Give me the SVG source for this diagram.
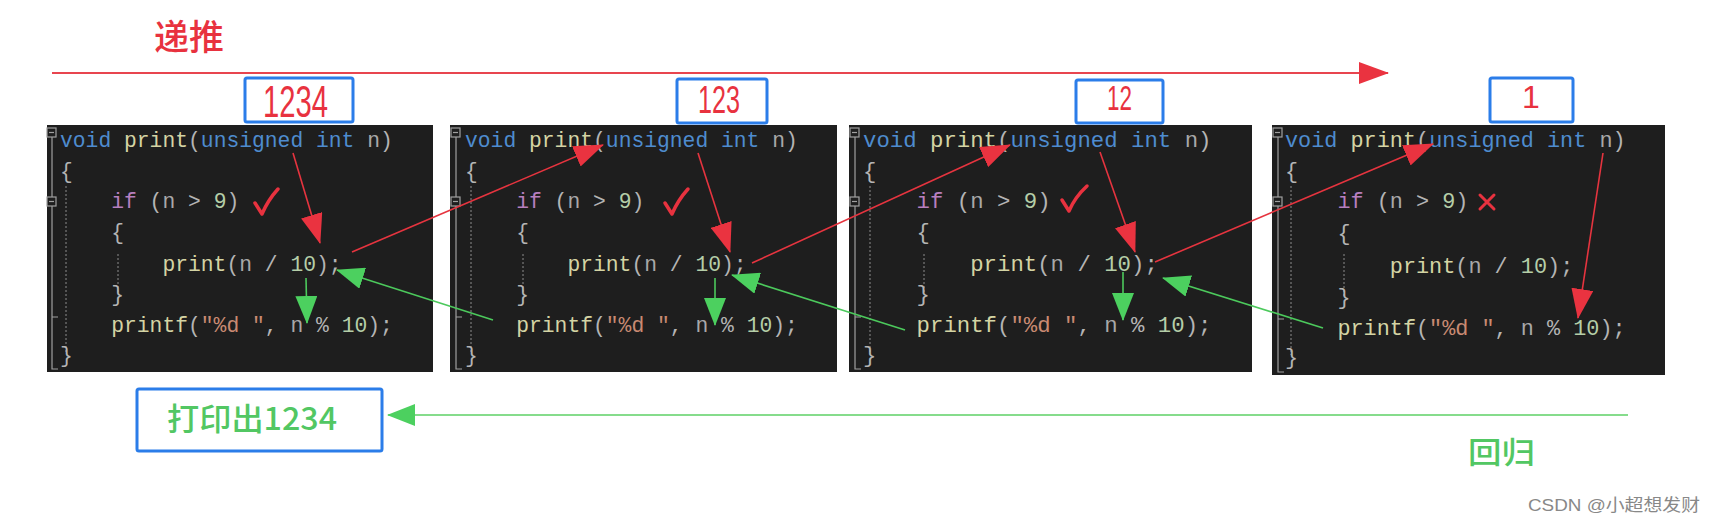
<svg xmlns="http://www.w3.org/2000/svg" width="1715" height="524" viewBox="0 0 1715 524">
<style>
.panel{fill:#1e1e1e}
.code{font-family:"Liberation Mono","DejaVu Sans Mono",monospace;fill:#b4b4b4}
.kw{fill:#4e8ccf}.fn{fill:#d4d4a4}.pn{fill:#b4b4b4}.var{fill:#a8a8a8}.ctl{fill:#b77fbf}.num{fill:#b5cea8}.str{fill:#c98a72}
.gut{stroke:#a0a0a0;stroke-width:1.2;fill:none}
.guide{stroke:#7a7a7a;stroke-width:1.2;stroke-dasharray:2 2;fill:none}
.fold{fill:#1e1e1e;stroke:#a0a0a0;stroke-width:1.2}
.box{fill:#ffffff;stroke:#2b7de9;stroke-width:3}
.hand{font-family:"Noto Sans CJK SC","Liberation Sans",sans-serif}
.red{fill:#e8323f}.green{fill:#52c763}
.digits{font-family:"Liberation Sans","DejaVu Sans",sans-serif;fill:#e8323f}
.rl{stroke:#e6343f;stroke-width:1.6;fill:none}
.gl{stroke:#4cc95c;stroke-width:1.6;fill:none}
.mark{stroke:#e8323f;stroke-width:3.5;fill:none;stroke-linecap:round;stroke-linejoin:round}
</style>
<defs>
<marker id="ahR" markerUnits="userSpaceOnUse" markerWidth="30" markerHeight="22" refX="29" refY="11" orient="auto"><path d="M0,0 L30,11 L0,22 z" fill="#ea3340"/></marker>
<marker id="ahG" markerUnits="userSpaceOnUse" markerWidth="28" markerHeight="22" refX="27" refY="11" orient="auto"><path d="M0,0 L28,11 L0,22 z" fill="#4cd05f"/></marker>
</defs>
<rect width="1715" height="524" fill="#ffffff"/>

<g id="label-recursion">
<text class="hand red" x="154" y="50" font-size="35" font-weight="500">递推</text>
</g>

<!-- Panel 1 -->
<g id="panel1">
<rect class="panel" x="47" y="125" width="386" height="247"/>
<path class="gut" d="M52,137 V369 H58 M52,206 V317 H58"/>
<rect class="fold" x="47" y="128" width="9" height="9"/><path class="gut" d="M49,132.5 H54"/>
<rect class="fold" x="47" y="197" width="9" height="9"/><path class="gut" d="M49,201.5 H54"/>
<path class="guide" d="M66,186 V352 M118,254 V294"/>
<g class="code" font-size="21.33" xml:space="preserve">
<text x="60" y="147"><tspan class="kw">void</tspan> <tspan class="fn">print</tspan><tspan class="pn">(</tspan><tspan class="kw">unsigned int</tspan> <tspan class="var">n</tspan><tspan class="pn">)</tspan></text>
<text x="60" y="178">{</text>
<text x="111.2" y="208"><tspan class="ctl">if</tspan> (<tspan class="var">n</tspan> &gt; <tspan class="num">9</tspan>)</text>
<text x="111.2" y="239">{</text>
<text x="162.4" y="271"><tspan class="fn">print</tspan>(<tspan class="var">n</tspan> / <tspan class="num">10</tspan>);</text>
<text x="111.2" y="301">}</text>
<text x="111.2" y="332"><tspan class="fn">printf</tspan>(<tspan class="str">"%d "</tspan>, <tspan class="var">n</tspan> % <tspan class="num">10</tspan>);</text>
<text x="60" y="362">}</text>
</g>
<path class="mark" d="M255,203 L262,214 Q268,200 278,189"/>
</g>

<!-- Panel 2 -->
<g id="panel2">
<rect class="panel" x="450" y="125" width="387" height="247"/>
<path class="gut" d="M456,137 V369 H462 M456,206 V317 H462"/>
<rect class="fold" x="451" y="128" width="9" height="9"/><path class="gut" d="M453,132.5 H458"/>
<rect class="fold" x="451" y="197" width="9" height="9"/><path class="gut" d="M453,201.5 H458"/>
<path class="guide" d="M471,186 V352 M523,254 V294"/>
<g class="code" font-size="21.33" xml:space="preserve">
<text x="465" y="147"><tspan class="kw">void</tspan> <tspan class="fn">print</tspan><tspan class="pn">(</tspan><tspan class="kw">unsigned int</tspan> <tspan class="var">n</tspan><tspan class="pn">)</tspan></text>
<text x="465" y="178">{</text>
<text x="516.2" y="208"><tspan class="ctl">if</tspan> (<tspan class="var">n</tspan> &gt; <tspan class="num">9</tspan>)</text>
<text x="516.2" y="239">{</text>
<text x="567.4" y="271"><tspan class="fn">print</tspan>(<tspan class="var">n</tspan> / <tspan class="num">10</tspan>);</text>
<text x="516.2" y="301">}</text>
<text x="516.2" y="332"><tspan class="fn">printf</tspan>(<tspan class="str">"%d "</tspan>, <tspan class="var">n</tspan> % <tspan class="num">10</tspan>);</text>
<text x="465" y="362">}</text>
</g>
<path class="mark" d="M665,203 L672,214 Q678,200 688,189"/>
</g>

<!-- Panel 3 -->
<g id="panel3">
<rect class="panel" x="849" y="125" width="403" height="247"/>
<path class="gut" d="M855,137 V369 H861 M855,206 V317 H861"/>
<rect class="fold" x="850" y="128" width="9" height="9"/><path class="gut" d="M852,132.5 H857"/>
<rect class="fold" x="850" y="197" width="9" height="9"/><path class="gut" d="M852,201.5 H857"/>
<path class="guide" d="M870,186 V352 M924,254 V294"/>
<g class="code" font-size="22.33" xml:space="preserve">
<text x="863" y="147"><tspan class="kw">void</tspan> <tspan class="fn">print</tspan><tspan class="pn">(</tspan><tspan class="kw">unsigned int</tspan> <tspan class="var">n</tspan><tspan class="pn">)</tspan></text>
<text x="863" y="178">{</text>
<text x="916.6" y="208"><tspan class="ctl">if</tspan> (<tspan class="var">n</tspan> &gt; <tspan class="num">9</tspan>)</text>
<text x="916.6" y="239">{</text>
<text x="970.2" y="271"><tspan class="fn">print</tspan>(<tspan class="var">n</tspan> / <tspan class="num">10</tspan>);</text>
<text x="916.6" y="301">}</text>
<text x="916.6" y="332"><tspan class="fn">printf</tspan>(<tspan class="str">"%d "</tspan>, <tspan class="var">n</tspan> % <tspan class="num">10</tspan>);</text>
<text x="863" y="362">}</text>
</g>
<path class="mark" d="M1062,200 L1069,211 Q1075,197 1087,186"/>
</g>

<!-- Panel 4 -->
<g id="panel4">
<rect class="panel" x="1272" y="125" width="393" height="250"/>
<path class="gut" d="M1278,137 V372 H1284 M1278,206 V319 H1284"/>
<rect class="fold" x="1273" y="128" width="9" height="9"/><path class="gut" d="M1275,132.5 H1280"/>
<rect class="fold" x="1273" y="197" width="9" height="9"/><path class="gut" d="M1275,201.5 H1280"/>
<path class="guide" d="M1291,186 V355 M1344,254 V296"/>
<g class="code" font-size="21.83" xml:space="preserve">
<text x="1285" y="147"><tspan class="kw">void</tspan> <tspan class="fn">print</tspan><tspan class="pn">(</tspan><tspan class="kw">unsigned int</tspan> <tspan class="var">n</tspan><tspan class="pn">)</tspan></text>
<text x="1285" y="178">{</text>
<text x="1337.4" y="208"><tspan class="ctl">if</tspan> (<tspan class="var">n</tspan> &gt; <tspan class="num">9</tspan>)</text>
<text x="1337.4" y="240">{</text>
<text x="1389.8" y="273"><tspan class="fn">print</tspan>(<tspan class="var">n</tspan> / <tspan class="num">10</tspan>);</text>
<text x="1337.4" y="304">}</text>
<text x="1337.4" y="335"><tspan class="fn">printf</tspan>(<tspan class="str">"%d "</tspan>, <tspan class="var">n</tspan> % <tspan class="num">10</tspan>);</text>
<text x="1285" y="364">}</text>
</g>
<path d="M1480,195 L1494,209 M1494,195 L1480,209" stroke="#e8323f" stroke-width="3" stroke-linecap="round"/>
</g>

<!-- value boxes -->
<g id="box1234">
<rect class="box" x="245" y="78" width="108" height="44" rx="2"/>
<text class="digits" x="263" y="117" font-size="44" textLength="65" lengthAdjust="spacingAndGlyphs">1234</text>
</g>
<g id="box123">
<rect class="box" x="677" y="79" width="90" height="44" rx="2"/>
<text class="digits" x="698" y="113" font-size="39" textLength="42" lengthAdjust="spacingAndGlyphs">123</text>
</g>
<g id="box12">
<rect class="box" x="1076" y="80" width="87" height="43" rx="2"/>
<text class="digits" x="1107" y="110" font-size="35" textLength="25" lengthAdjust="spacingAndGlyphs">12</text>
</g>
<g id="box1">
<rect class="box" x="1490" y="78" width="83" height="44" rx="2"/>
<text class="digits" x="1531" y="108" font-size="32" text-anchor="middle">1</text>
</g>
<g id="box-output">
<rect class="box" x="137" y="389" width="245" height="62" rx="2"/>
<text class="hand green" x="167" y="430" font-size="31" font-weight="500" textLength="170" lengthAdjust="spacingAndGlyphs">打印出1234</text>
</g>

<g id="label-return">
<text class="hand green" x="1468" y="463" font-size="30" font-weight="500" textLength="67" lengthAdjust="spacingAndGlyphs">回归</text>
</g>

<g id="watermark">
<text x="1528" y="511" font-family="'Liberation Sans','Noto Sans CJK SC',sans-serif" font-size="17" fill="#888888" textLength="172" lengthAdjust="spacingAndGlyphs">CSDN @小超想发财</text>
</g>

<g id="connectors">
<line x1="52" y1="73" x2="1388" y2="73" stroke="#e8454f" stroke-width="2" marker-end="url(#ahR)"/>
<line class="rl" x1="293" y1="153" x2="320" y2="243" marker-end="url(#ahR)"/>
<line class="rl" x1="352" y1="252" x2="603" y2="145" marker-end="url(#ahR)"/>
<line class="rl" x1="698" y1="153" x2="730" y2="252" marker-end="url(#ahR)"/>
<line class="rl" x1="752" y1="263" x2="1010" y2="145" marker-end="url(#ahR)"/>
<line class="rl" x1="1100" y1="152" x2="1135" y2="252" marker-end="url(#ahR)"/>
<line class="rl" x1="1155" y1="262" x2="1433" y2="144" marker-end="url(#ahR)"/>
<line class="rl" x1="1603" y1="153" x2="1578" y2="318" marker-end="url(#ahR)"/>
<line class="gl" x1="306" y1="278" x2="307" y2="323" marker-end="url(#ahG)"/>
<line class="gl" x1="493" y1="320" x2="337" y2="270" marker-end="url(#ahG)"/>
<line class="gl" x1="715" y1="278" x2="715" y2="325" marker-end="url(#ahG)"/>
<line class="gl" x1="905" y1="330" x2="732" y2="275" marker-end="url(#ahG)"/>
<line class="gl" x1="1123" y1="272" x2="1123" y2="320" marker-end="url(#ahG)"/>
<line class="gl" x1="1323" y1="328" x2="1163" y2="278" marker-end="url(#ahG)"/>
<line x1="1628" y1="415" x2="388" y2="415" stroke="#86dc8c" stroke-width="2" marker-end="url(#ahG)"/>
</g>
</svg>
